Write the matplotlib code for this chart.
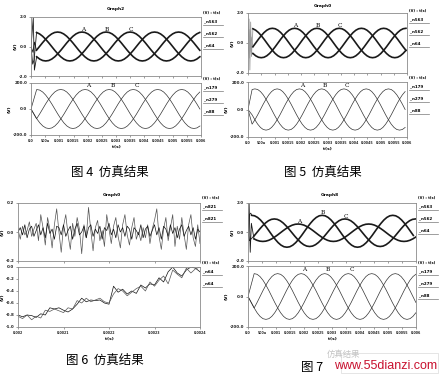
"""Four simulation-result panels (figs 4-7) redrawn with matplotlib."""

import matplotlib
matplotlib.use("Agg")
import matplotlib.pyplot as plt
import numpy as np
from matplotlib.patches import Rectangle

W, H = 446, 378

# one cycle of the phase waveform, 24 samples, starting at the peak
CYCLE = [1.0, 0.97, 0.87, 0.71, 0.5, 0.26, 0.0, -0.26, -0.5, -0.71, -0.87, -0.97,
         -1.0, -0.97, -0.87, -0.71, -0.5, -0.26, 0.0, 0.26, 0.5, 0.71, 0.87, 0.97]

PHASES = ["A", "B", "C"]
T_END = 0.006
X_TICKS = [0.0, 0.0005, 0.001, 0.0015, 0.002, 0.0025, 0.003, 0.0035, 0.004, 0.0045, 0.005, 0.0055, 0.006]
X_LABELS = ["0.0", "500u", "0.001", "0.0015", "0.002", "0.0025", "0.003", "0.0035",
            "0.004", "0.0045", "0.005", "0.0055", "0.006"]

# fig 4
FIG4_PERIOD = 0.00256
FIG4_TOP_PEAK = [0.00180, 0.00265, 0.00350]
FIG4_TOP_AMP = [0.98, 0.98, 0.98]
FIG4_TOP_OFF = [0.0, 0.0, 0.0]
FIG4_BOT_PEAK = [0.00191, 0.00276, 0.00361]
FIG4_BOT_AMP = [150, 150, 150]
FIG4_TOP_LEAD_T = [[0.0, 0.00005, 0.00008, 0.00012], [0.0, 0.00006, 0.00011], [0.0, 0.00007, 0.00012]]
FIG4_TOP_LEAD_V = [[0.0, 1.2, 1.95, -1.6], [0.0, -1.2, -0.9], [0.0, -0.4, 0.3]]

# fig 5
FIG5_PERIOD = 0.00252
FIG5_TOP_PEAK = [0.00176, 0.00260, 0.00344]
FIG5_TOP_AMP = [0.98, 0.98, 0.98]
FIG5_TOP_OFF = [0.0, 0.0, 0.0]
FIG5_BOT_PEAK = [0.00194, 0.00278, 0.00362]
FIG5_BOT_AMP = [150, 150, 150]
FIG5_TOP_LEAD_T = [[0.0, 0.00004, 0.00007, 0.0001, 0.00013], [0.0, 0.00005, 0.00009, 0.00013],
                   [0.0, 0.00004, 0.00008, 0.00012]]
FIG5_TOP_LEAD_V = [[0.0, 1.6, -1.8, 1.4, -0.8], [0.0, -1.0, 0.8, -0.9], [0.0, 0.9, -0.6, 0.4]]

# fig 7
FIG7_PERIOD = 0.00252
FIG7_TOP_PEAK = [0.00179, 0.00265, 0.00346]
FIG7_TOP_AMP = [0.6, 1.1, 0.95]
FIG7_TOP_OFF = [-0.05, 0.05, -0.05]
FIG7_BOT_PEAK = [0.00190, 0.00274, 0.00358]
FIG7_BOT_AMP = [150, 150, 150]
FIG7_TOP_LEAD_T = [[0.0, 0.00004, 0.00008, 0.00012], [0.0, 0.00005, 0.0001], [0.0, 0.00005, 0.0001]]
FIG7_TOP_LEAD_V = [[0.0, 1.95, -1.4, 0.6], [0.0, 1.2, 1.3], [0.0, -0.6, -0.5]]

# fig 6 (0.002 .. 0.0024 s)
FIG6_T0 = 0.002
FIG6_TOP_DT = 0.000005
FIG6_TOP_1 = [0.02, -0.05, 0.04, -0.02, 0.01, 0.07, -0.03, 0.02, 0.06, -0.06, 0.12, 0.03, -0.09, 0.10,
              0.02, -0.11, 0.05, 0.16, 0.00, -0.14, 0.04, 0.12, -0.02, -0.12, 0.06, -0.03, 0.10, 0.02,
              -0.15, 0.05, -0.04, 0.17, 0.01, -0.13, 0.03, 0.08, -0.06, 0.01, -0.10, 0.12, 0.02, -0.08,
              0.04, 0.10, -0.03, -0.11, 0.05, 0.12, -0.02, -0.09, 0.03, 0.10, -0.05, 0.00, -0.06, 0.03,
              -0.04, 0.05, -0.08, 0.02, 0.08, 0.16, -0.03, -0.12, 0.02, 0.10, -0.06, 0.03, 0.12, -0.10,
              0.04, -0.05, 0.10, -0.02, -0.12, 0.05, 0.12, -0.04, -0.10, 0.05, -0.08]
FIG6_TOP_2 = [0.00, 0.03, -0.02, 0.05, -0.04, 0.02, 0.04, -0.03, 0.01, 0.05, -0.02, 0.03, -0.04, 0.06,
              -0.01, 0.02, -0.05, 0.04, 0.03, -0.02, 0.05, -0.03, 0.01, 0.04, -0.05, 0.02, 0.06, -0.02,
              0.00, 0.04, -0.04, 0.03, 0.05, -0.03, 0.02, -0.01, 0.04, -0.05, 0.03, 0.01, 0.06, -0.02,
              0.02, -0.04, 0.05, 0.00, 0.03, -0.03, 0.04, 0.02, -0.05, 0.03, 0.01, -0.02, 0.05, -0.04,
              0.02, 0.04, -0.03, 0.01, 0.05, -0.02, 0.03, -0.05, 0.04, 0.02, -0.03, 0.05, -0.01, 0.03,
              -0.04, 0.02, 0.05, -0.03, 0.01, 0.04, -0.02, 0.03, -0.05, 0.02, 0.00]
FIG6_BOT_DT = 0.00001
FIG6_BOT_1 = [-0.80, -0.83, -0.80, -0.81, -0.84, -0.78, -0.80, -0.68, -0.70, -0.68, -0.72, -0.75, -0.70,
              -0.62, -0.52, -0.58, -0.55, -0.56, -0.55, -0.60, -0.62, -0.32, -0.42, -0.37, -0.45, -0.40,
              -0.44, -0.30, -0.35, -0.28, -0.30, -0.18, -0.25, -0.08, 0.0, -0.10, -0.15, -0.05, 0.0,
              -0.02, -0.08]
FIG6_BOT_2 = [-0.82, -0.86, -0.80, -0.88, -0.82, -0.85, -0.72, -0.74, -0.70, -0.73, -0.76, -0.68, -0.70,
              -0.56, -0.60, -0.52, -0.58, -0.55, -0.52, -0.58, -0.60, -0.45, -0.36, -0.40, -0.48, -0.42,
              -0.36, -0.32, -0.40, -0.25, -0.32, -0.22, -0.15, -0.28, -0.05, -0.12, -0.18, -0.02, -0.10,
              -0.03, 0.0]
FIG6_X_TICKS = [0.002, 0.0021, 0.0022, 0.0023, 0.0024]
FIG6_X_LABELS = ["0.002", "0.0021", "0.0022", "0.0023", "0.0024"]

INK = "#1a1a1a"
SPINE = "#8a8a8a"
TICK_KW = dict(fontsize=2.9, fontweight="bold", color="#222222")
XTICK_KW = dict(fontsize=2.3, fontweight="bold", color="#222222")


def add_ax(fig, x0, y0, x1, y1):
    return fig.add_axes([x0 / W, 1 - y1 / H, (x1 - x0) / W, (y1 - y0) / H])


def wave(peak, period, amp, offset, t_start, t_end=T_END):
    n = len(CYCLE)
    dt = period / n
    k = np.arange(int(np.ceil((t_start - peak) / dt)), int(np.floor((t_end - peak) / dt)) + 1)
    return peak + k * dt, offset + amp * np.take(CYCLE, k % n)


def style(ax, xlim, ylim, yticks, ylabels, xticks, xlabels=None):
    ax.set_xlim(*xlim)
    ax.set_ylim(*ylim)
    for s in ax.spines.values():
        s.set_color(SPINE)
        s.set_linewidth(0.6)
    ax.set_yticks(yticks)
    ax.set_yticklabels(ylabels, **TICK_KW)
    ax.set_xticks(xticks)
    if xlabels is None:
        ax.set_xticklabels([])
    else:
        ax.set_xticklabels(xlabels, **XTICK_KW)
    ax.tick_params(length=1.5, width=0.4, pad=1.2, color="#555555")
    ax.set_ylabel("(V)", fontsize=3.2, fontweight="bold", labelpad=1)


def legend_block(fig, x, y_head, names, y_step):
    fig.text(x / W, 1 - y_head / H, "(V) : t(s)", fontsize=2.6, fontweight="bold", va="center")
    for i, name in enumerate(names):
        yy = y_head + 8 + i * y_step
        fig.text((x + 1) / W, 1 - yy / H, name, fontsize=2.9, fontweight="bold", va="center")
        fig.add_artist(plt.Line2D([x / W, (x + 20) / W], [1 - (yy + 4) / H] * 2, color="#777777", lw=0.5))


def phase_labels(ax, peaks, amps, offs, dx, dy):
    for name, p, a, o in zip(PHASES, peaks, amps, offs):
        ax.text(p + dx, o + a + dy, name, fontsize=4.2, family="DejaVu Serif", ha="center", va="bottom")


def three_phase(fig, left, right, top_box, bot_box, title_xy, period, top, bot, lead, lead_color,
                legend_x, leg_top, leg_bot, caption):
    top_peak, top_amp, top_off = top
    bot_peak, bot_amp = bot
    lead_t, lead_v = lead

    ax = add_ax(fig, left, top_box[0], right, top_box[1])
    for p, a, o, lt, lv in zip(top_peak, top_amp, top_off, lead_t, lead_v):
        t, v = wave(p, period, a, o, lt[-1] + 0.00003)
        ax.plot(lt + [t[0]], lv + [v[0]], color=lead_color, lw=0.6)
        ax.plot(t, v, color=INK, lw=1.2)
    style(ax, (0, T_END), (-2.0, 2.0), [2.0, 0.0, -2.0], ["2.0", "0.0", "-2.0"], X_TICKS)
    phase_labels(ax, top_peak, top_amp, top_off, 0.00003, 0.02)

    bx = add_ax(fig, left, bot_box[0], right, bot_box[1])
    for p, a in zip(bot_peak, bot_amp):
        t, v = wave(p, period, a, 0.0, 0.00012)
        bx.plot([0.0] + list(t), [0.0] + list(v), color="#333333", lw=0.5)
    style(bx, (0, T_END), (-200, 200), [200, 0, -200], ["200.0", "0.0", "-200.0"], X_TICKS, X_LABELS)
    phase_labels(bx, bot_peak, bot_amp, [0, 0, 0], 0.00012, 8)
    bx.set_xlabel("t(s)", fontsize=3.2, fontweight="bold", labelpad=1.5)

    fig.text(title_xy[0] / W, 1 - title_xy[1] / H, "Graph" + caption, fontsize=3.2,
             fontweight="bold", ha="center", va="center")
    legend_block(fig, legend_x, leg_top, ["_n563", "_n562", "_n64"], 12)
    legend_block(fig, legend_x, leg_bot, ["_n179", "_n279", "_n88"], 12)


fig = plt.figure(figsize=(W / 100, H / 100), dpi=100)
fig.patch.set_facecolor("white")

three_phase(fig, 31, 201, (17, 76), (83, 135), (116, 9), FIG4_PERIOD,
            (FIG4_TOP_PEAK, FIG4_TOP_AMP, FIG4_TOP_OFF), (FIG4_BOT_PEAK, FIG4_BOT_AMP),
            (FIG4_TOP_LEAD_T, FIG4_TOP_LEAD_V), INK, 203, 13, 79, "2")
three_phase(fig, 248, 407, (13, 73), (82, 137), (323, 6), FIG5_PERIOD,
            (FIG5_TOP_PEAK, FIG5_TOP_AMP, FIG5_TOP_OFF), (FIG5_BOT_PEAK, FIG5_BOT_AMP),
            (FIG5_TOP_LEAD_T, FIG5_TOP_LEAD_V), "#9a9a9a", 409, 11, 78, "0")
three_phase(fig, 248, 416, (203, 261), (266, 327), (330, 195), FIG7_PERIOD,
            (FIG7_TOP_PEAK, FIG7_TOP_AMP, FIG7_TOP_OFF), (FIG7_BOT_PEAK, FIG7_BOT_AMP),
            (FIG7_TOP_LEAD_T, FIG7_TOP_LEAD_V), INK, 418, 198, 263, "8")

# fig 6
ax6 = add_ax(fig, 18, 203, 200, 261)
for series, col in [(FIG6_TOP_1, "#555555"), (FIG6_TOP_2, "#111111")]:
    t = FIG6_T0 + FIG6_TOP_DT * np.arange(len(series))
    ax6.plot(t, series, color=col, lw=0.5)
style(ax6, (0.002, 0.0024), (-0.2, 0.2), [0.2, 0.0, -0.2], ["0.2", "0.0", "-0.2"], FIG6_X_TICKS)
bx6 = add_ax(fig, 18, 267, 200, 327)
for series, col in [(FIG6_BOT_1, "#111111"), (FIG6_BOT_2, "#555555")]:
    t = FIG6_T0 + FIG6_BOT_DT * np.arange(len(series))
    bx6.plot(t, series, color=col, lw=0.5)
style(bx6, (0.002, 0.0024), (-1.0, 0.0), [0.0, -0.2, -0.4, -0.6, -0.8, -1.0],
      ["0.0", "-0.2", "-0.4", "-0.6", "-0.8", "-1.0"], FIG6_X_TICKS, FIG6_X_LABELS)
bx6.set_xlabel("t(s)", fontsize=3.2, fontweight="bold", labelpad=1.5)
fig.text(112 / W, 1 - 195 / H, "Graph0", fontsize=3.2, fontweight="bold", ha="center", va="center")
legend_block(fig, 202, 198, ["_n821", "_n821"], 12)
legend_block(fig, 202, 263, ["_n64", "_n64"], 12)

# captions
CJK = ["Noto Sans CJK SC", "DejaVu Sans"]
for x, y, s in [(110, 172, "图 4  仿真结果"), (323, 172, "图 5  仿真结果"), (105, 360, "图 6  仿真结果")]:
    fig.text(x / W, 1 - y / H, s, fontsize=9, family=CJK, ha="center", va="center")
fig.text(301 / W, 1 - 367 / H, "图 7", fontsize=9, family=CJK, ha="left", va="center")
fig.text(327 / W, 1 - 354 / H, "仿真结果", fontsize=6, family=CJK, color="#c4c4c4", ha="left", va="center")

# watermark
fig.add_artist(Rectangle((341 / W, 1 - 373 / H), 97 / W, 20 / H, transform=fig.transFigure,
                         facecolor="white", edgecolor="#dddddd", lw=0.6, alpha=0.9))
fig.text(386 / W, 1 - 366 / H, "www.55dianzi.com", fontsize=9, family="Liberation Sans",
         color="#c8102e", ha="center", va="center")

fig.savefig("out.png", dpi=100, facecolor="white")
